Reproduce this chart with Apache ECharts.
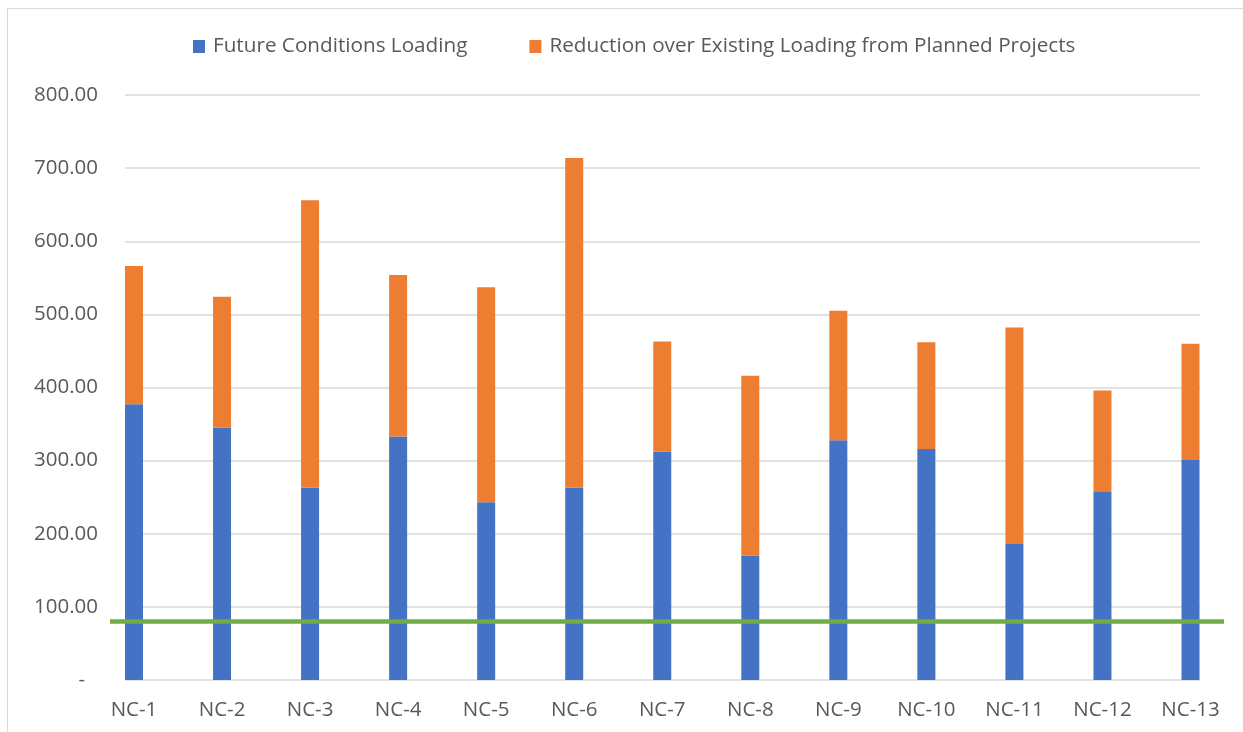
<!DOCTYPE html>
<html lang="en">

<head>
  <meta charset="UTF-8">
  <title>NC Loading</title>
  <style>
    html, body { margin: 0; padding: 0; background: #fff; }
  </style>
</head>

<body>
  <div id="main" style="width: 1243px;height:732px;"></div>
  <script src="https://cdn.jsdelivr.net/npm/echarts@6/dist/echarts.min.js"></script>
  <script>
    const categories = ['NC-1', 'NC-2', 'NC-3', 'NC-4', 'NC-5', 'NC-6', 'NC-7',
      'NC-8', 'NC-9', 'NC-10', 'NC-11', 'NC-12', 'NC-13'];
    const futureLoading = [377, 345, 263, 333, 243, 263, 312, 170, 328, 316, 186, 257, 301];
    const reductionLoading = [189, 179, 393, 221, 294, 451, 151, 246, 177, 146, 296, 139, 159];
    const targetLoading = 80;
    const yTicks = [0, 800, 100]; // min, max, interval

    const textColor = '#595959';
    const font = '"Open Sans", sans-serif';
    const fontSize = 20.5;

    const myChart = echarts.init(document.getElementById('main'));

    // shared vertical scale for all three grids
    const yBase = { type: 'value', min: yTicks[0], max: yTicks[1], interval: yTicks[2] };

    const option = {
      animation: false,
      textStyle: { fontFamily: font },
      graphic: [{
        type: 'rect',
        shape: { x: 7.5, y: 8.5, width: 1260, height: 740 },
        style: { fill: 'none', stroke: '#D9D9D9', lineWidth: 1 },
        silent: true
      }],
      legend: {
        data: ['Future Conditions Loading', 'Reduction over Existing Loading from Planned Projects'],
        left: 188,
        top: 31,
        icon: 'rect',
        itemWidth: 12,
        itemHeight: 13,
        itemGap: 62,
        textStyle: { color: textColor, fontSize: 20.7, fontFamily: font, padding: [0, 0, 0, 3] }
      },
      grid: [
        { left: 125, right: 43, top: 95, bottom: 52 },
        { left: 134, right: 52.5, top: 95, bottom: 52 },
        { left: 110, right: 19, top: 95, bottom: 52 }
      ],
      xAxis: [
        { gridIndex: 0, type: 'value', min: 0, max: 1, show: false },
        {
          gridIndex: 1,
          type: 'category',
          data: categories,
          boundaryGap: false,
          axisLine: { show: false },
          axisTick: { show: false },
          axisLabel: { color: textColor, fontSize: fontSize, fontFamily: font, margin: 20, interval: 0 }
        },
        { gridIndex: 2, type: 'value', min: 0, max: 1, show: false }
      ],
      yAxis: [
        Object.assign({}, yBase, {
          gridIndex: 0,
          axisLine: { show: false },
          axisTick: { show: false },
          splitLine: { lineStyle: { color: '#D9D9D9', width: 1.5 } },
          axisLabel: {
            color: textColor,
            fontSize: fontSize,
            fontFamily: font,
            margin: 27,
            formatter: (v) => v === 0 ? '{d|-}' : v.toFixed(2),
            rich: { d: { color: textColor, fontSize: fontSize, fontFamily: font, padding: [0, 13, 0, 0] } }
          }
        }),
        Object.assign({}, yBase, { gridIndex: 1, show: false, splitLine: { show: false } }),
        Object.assign({}, yBase, { gridIndex: 2, show: false, splitLine: { show: false } })
      ],
      series: [{
        name: 'Future Conditions Loading',
        type: 'bar',
        xAxisIndex: 1,
        yAxisIndex: 1,
        stack: 'total',
        barWidth: 18,
        itemStyle: { color: '#4472C4' },
        data: futureLoading
      }, {
        name: 'Reduction over Existing Loading from Planned Projects',
        type: 'bar',
        xAxisIndex: 1,
        yAxisIndex: 1,
        stack: 'total',
        barWidth: 18,
        itemStyle: { color: '#ED7D31' },
        data: reductionLoading
      }, {
        name: 'Target',
        type: 'line',
        xAxisIndex: 2,
        yAxisIndex: 2,
        symbol: 'none',
        z: 5,
        lineStyle: { color: '#70AD47', width: 4.5 },
        data: [[0, targetLoading], [1, targetLoading]]
      }]
    };

    myChart.setOption(option);
  </script>
</body>

</html>
